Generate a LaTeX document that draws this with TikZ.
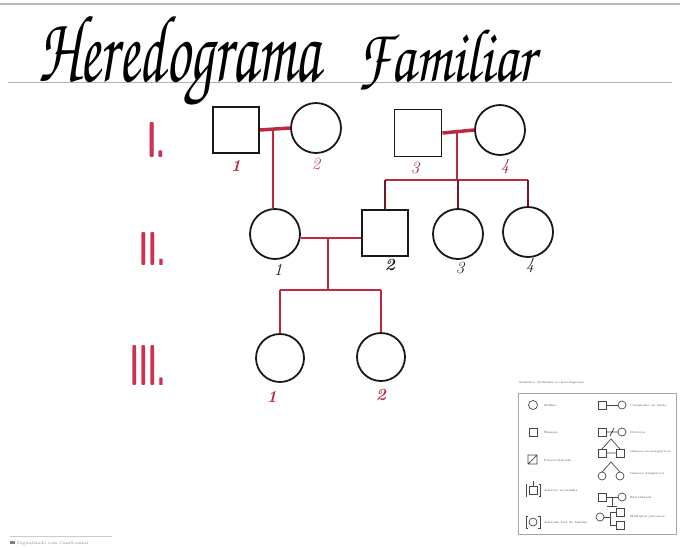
\documentclass[tikz,border=0pt]{standalone}
\usepackage[T1,TU]{fontenc}
\usepackage{graphicx}
\definecolor{pedred}{RGB}{190,40,65}
\definecolor{numred}{RGB}{205,50,80}
\definecolor{ink}{RGB}{25,25,25}
\definecolor{legink}{RGB}{70,70,70}
\newcommand{\handfont}{\fontencoding{T1}\fontfamily{pzc}\fontseries{mb}\fontshape{it}\selectfont}
\begin{document}
\begin{tikzpicture}[x=1pt,y=-1pt,
  female/.style={circle,draw=ink,line width=1.8pt,fill=white,minimum size=50pt,inner sep=0pt},
  male/.style={rectangle,draw=ink,line width=1.8pt,fill=white,minimum size=46pt,inner sep=0pt},
  mate/.style={draw=pedred,line width=3.5pt},
  desc/.style={draw=pedred,line width=2.5pt},
  sib/.style={draw=pedred,line width=2.2pt},
  drop/.style={draw=pedred!60!black,line width=1.4pt},
  idx/.style={font=\fontsize{17}{17}\selectfont\itshape,inner sep=0pt},
  gen/.style={text=numred,inner sep=0pt,anchor=base west},
  legsym/.style={draw=legink,line width=0.7pt},
  legtxt/.style={font=\fontsize{3}{3}\selectfont,text=legink,anchor=west,inner sep=0pt},
]
\useasboundingbox[fill=white] (0,0) rectangle (680,547);

% scan edge at the top and the guide line under the heading
\draw[gray!55,line width=1.4pt] (0,4) -- (680,4);
\draw[gray!60,line width=0.9pt] (8,82) -- (672,82);

% heading
\node[anchor=base west,inner sep=0pt] (t1) at (38,81) {\resizebox{282pt}{68pt}{\handfont Heredograma}};
\node[anchor=base west,inner sep=0pt] (t2) at (357,81) {\resizebox{178pt}{54pt}{\handfont Familiar}};

% generation labels
\node[gen] (gI) at (147,157) {\resizebox{18pt}{35pt}{\sffamily\bfseries I.}};
\node[gen] (gII) at (139,265) {\resizebox{26pt}{33pt}{\sffamily\bfseries II.}};
\node[gen] (gIII) at (130,385) {\resizebox{35pt}{40pt}{\sffamily\bfseries III.}};

% generation I
\node[male] (I1) at (236,130) {};
\node[female] (I2) at (316,128) {};
\node[male,minimum size=47pt] (I3) at (418,133) {};
\node[female] (I4) at (500,130) {};

% generation II
\node[female] (II1) at (275,234) {};
\node[male] (II2) at (385,233) {};
\node[female] (II3) at (458,234) {};
\node[female] (II4) at (528,232) {};

% generation III
\node[female,minimum size=48pt] (III1) at (280,358) {};
\node[female,minimum size=48pt] (III2) at (381,357) {};

% couples and their descent
\coordinate (m1) at (273,131);
\coordinate (m2) at (457,133);
\coordinate (s2) at (457,180);
\coordinate (m3) at (328,238);
\coordinate (s3) at (328,290);
\draw[mate] (I1.east) -- (I2.west);
\draw[desc] (m1) -- (m1 |- II1.north);
\draw[mate] (I3.east) -- (I4.west);
\draw[desc] (m2) -- (s2);
\draw[sib] (II2.north |- s2) -- (II4.north |- s2);
\draw[drop] (II2.north |- s2) -- (II2.north);
\draw[drop] (II3.north |- s2) -- (II3.north);
\draw[drop] (II4.north |- s2) -- (II4.north);
\draw[mate,line width=2.6pt] (II1.east |- m3) -- (II2.west |- m3);
\draw[desc] (m3) -- (s3);
\draw[sib] (III1.north |- s3) -- (III2.north |- s3);
\draw[desc] (III1.north |- s3) -- (III1.north);
\draw[desc] (III2.north |- s3) -- (III2.north);

% individual numbers
\node[idx,text=pedred] (n11) at (236,166) {\textbf{1}};
\node[idx,text=numred] (n12) at (316,164) {2};
\node[idx,text=pedred!70!black] (n13) at (415,168) {3};
\node[idx,text=pedred!70!black] (n14) at (505,166) {4};
\node[idx,text=ink] (n21) at (278,270) {1};
\node[idx,text=ink] (n22) at (390,265) {\textbf{2}};
\node[idx,text=ink] (n23) at (460,268) {3};
\node[idx,text=ink] (n24) at (530,265) {4};
\node[idx,text=pedred] (n31) at (272,397) {\textbf{1}};
\node[idx,text=pedred] (n32) at (381,395) {\textbf{2}};

% symbol key
\node[legtxt] (kt) at (519,383) {Símbolos utilizados no heredograma};
\draw[gray!70,line width=0.6pt] (518,393) rectangle (676,534);
% left column
\draw[legsym] (533,405) circle (4.5);
\node[legtxt] at (544,405) {Mulher};
\draw[legsym] (529,428) rectangle (537,436);
\node[legtxt] at (544,432) {Homem};
\draw[legsym] (528,455) rectangle (537,464) (528,464) -- (537,455);
\node[legtxt] at (544,460) {Pessoa falecida};
\draw[legsym] (529,486) rectangle (537,494);
\draw[legsym] (527,484) -- (526,484) -- (526,496) -- (527,496);
\draw[legsym] (539,484) -- (540,484) -- (540,496) -- (539,496);
\draw[legsym] (533,486) -- (533,481);
\node[legtxt] at (544,490) {Adotivo na família};
\draw[legsym] (533,522) circle (4);
\draw[legsym] (528,516) -- (526,516) -- (526,528) -- (528,528);
\draw[legsym] (538,516) -- (540,516) -- (540,528) -- (538,528);
\node[legtxt] at (544,522) {Adotado fora da família};
% right column
\draw[legsym] (598,401) rectangle (606,409);
\draw[legsym] (606,405) -- (618,405);
\draw[legsym] (622,405) circle (4);
\node[legtxt] at (630,405) {Casamento ou união};
\draw[legsym] (598,428) rectangle (606,436);
\draw[legsym] (606,432) -- (618,432) (610,436) -- (614,428);
\draw[legsym] (622,432) circle (4);
\node[legtxt] at (630,432) {Divórcio};
\draw[legsym] (598,449) rectangle (606,457) (616,449) rectangle (624,457);
\draw[legsym] (602,449) -- (611,439) -- (620,449) (606,453) -- (616,453);
\node[legtxt] at (630,452) {Gêmeos monozigóticos};
\draw[legsym] (602,476) circle (4) (620,476) circle (4);
\draw[legsym] (602,472) -- (611,462) -- (620,472);
\node[legtxt] at (630,474) {Gêmeos dizigóticos};
\draw[legsym] (598,493) rectangle (606,501);
\draw[legsym] (606,497) -- (618,497) (612,497) -- (612,506) (607,506) -- (617,506);
\draw[legsym] (622,497) circle (4);
\node[legtxt] at (630,497) {Esterilidade};
\draw[legsym] (600,517) circle (4);
\draw[legsym] (616,508) rectangle (624,516) (616,521) rectangle (624,529);
\draw[legsym] (604,517) -- (610,517) -- (610,512) -- (616,512) (610,517) -- (610,525) -- (616,525);
\node[legtxt] at (630,517) {Múltiplos parceiros};

% scanner footer
\draw[gray!40,line width=0.5pt] (10,536) -- (112,536);
\node[anchor=west,inner sep=0pt,font=\fontsize{4}{4}\selectfont,text=gray] (foot) at (10,543) {\rule{5pt}{3pt}~Digitalizado com CamScanner};
\end{tikzpicture}
\end{document}
